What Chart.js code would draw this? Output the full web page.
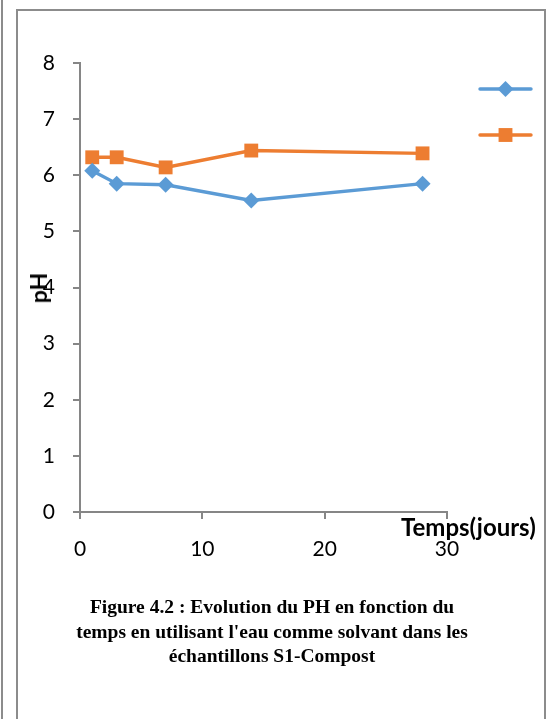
<!DOCTYPE html>
<html>
<head>
<meta charset="utf-8">
<script src="https://cdn.jsdelivr.net/npm/chart.js@4.4.1/dist/chart.umd.min.js"></script>
<style>
  html, body { margin:0; padding:0; background:#fff; width:554px; height:719px; overflow:hidden; }
  #wrap { position:relative; width:554px; height:719px; }
  #c { position:absolute; left:0; top:0; }
  .lineL { position:absolute; left:1px; top:0; width:2px; height:719px; background:#8c8c8c; }
  .frame { position:absolute; left:16px; top:9px; width:526px; height:720px; border:2px solid #8c8c8c; border-bottom:none; }
  .ylab { position:absolute; left:38px; top:288px; transform:translate(-50%,-50%) rotate(-90deg); font-family:Lato, 'Open Sans', sans-serif; font-weight:bold; font-size:23px; color:#000; white-space:nowrap; z-index:2; }
  .xlab { position:absolute; left:401px; top:512px; font-family:Lato, 'Open Sans', sans-serif; font-weight:bold; font-size:24px; color:#000; white-space:nowrap; z-index:2; }
  .caption { position:absolute; left:22px; top:595px; width:500px; text-align:center; font-family:'Liberation Serif','Times New Roman',serif; font-weight:bold; font-size:19.5px; line-height:24.5px; color:#000; }
</style>
</head>
<body>
<div id="wrap">
  <div class="lineL"></div>
  <div class="frame"></div>
  <canvas id="c" width="554" height="600"></canvas>
  <div class="ylab">pH</div>
  <div class="xlab">Temps(jours)</div>
  <div class="caption">Figure 4.2 : Evolution du PH en fonction du<br>temps en utilisant l'eau comme solvant dans les<br>échantillons S1-Compost</div>
</div>
<script>
// Data
const days = [1, 3, 7, 14, 28];
const phSerie1 = [6.08, 5.85, 5.83, 5.55, 5.85];
const phSerie2 = [6.32, 6.32, 6.14, 6.44, 6.39];
const xTickValues = [0, 10, 20, 30];
const yTickValues = [0, 1, 2, 3, 4, 5, 6, 7, 8];

const blue = '#5B9BD5';
const orange = '#ED7D31';
const axisGray = '#868686';

const sideLegend = {
  id: 'sideLegend',
  afterDatasetsDraw(chart) {
    const ctx = chart.ctx;
    const area = chart.chartArea;
    chart.data.datasets.forEach((ds, i) => {
      const x1 = area.right + 33, x2 = area.right + 84;
      const y = area.top + 26 + i * 46;
      ctx.save();
      ctx.strokeStyle = ds.borderColor;
      ctx.lineWidth = ds.borderWidth;
      ctx.lineCap = 'round';
      ctx.beginPath();
      ctx.moveTo(x1, y);
      ctx.lineTo(x2, y);
      ctx.stroke();
      ctx.fillStyle = ds.pointBackgroundColor;
      ctx.strokeStyle = ds.pointBackgroundColor;
      Chart.helpers.drawPoint(ctx, {pointStyle: ds.pointStyle, radius: ds.pointRadius, borderWidth: 0, rotation: 0}, (x1 + x2) / 2, y);
      ctx.restore();
    });
  }
};

const mk = (vals) => days.map((d, i) => ({x: d, y: vals[i]}));

new Chart(document.getElementById('c'), {
  type: 'line',
  data: {
    datasets: [
      { label: 'Série 1', data: mk(phSerie1), borderColor: blue, backgroundColor: blue, borderWidth: 3.4,
        pointStyle: 'rectRot', pointRadius: 8, pointBackgroundColor: blue, pointBorderColor: blue, pointBorderWidth: 0, tension: 0 },
      { label: 'Série 2', data: mk(phSerie2), borderColor: orange, backgroundColor: orange, borderWidth: 3.4,
        pointStyle: 'rect', pointRadius: 9.8, pointBackgroundColor: orange, pointBorderColor: orange, pointBorderWidth: 0, tension: 0 }
    ]
  },
  options: {
    responsive: false,
    animation: false,
    devicePixelRatio: 1,
    layout: { padding: { left: 20, right: 107, top: 63, bottom: 28 } },
    plugins: { legend: { display: false }, tooltip: { enabled: false } },
    scales: {
      x: {
        type: 'linear', min: 0, max: 30,
        afterBuildTicks: s => { s.ticks = xTickValues.map(v => ({value: v})); },
        afterFit: s => { s.height = 60; },
        grid: { drawOnChartArea: false, drawTicks: true, tickLength: 7, color: axisGray, lineWidth: 2 },
        border: { color: axisGray, width: 2 },
        ticks: { font: { family: 'Lato', size: 21 }, color: '#000', padding: 18, maxRotation: 0 }
      },
      y: {
        min: 0, max: 8,
        afterBuildTicks: s => { s.ticks = yTickValues.map(v => ({value: v})); },
        afterFit: s => { s.width = 60; },
        grid: { drawOnChartArea: false, drawTicks: true, tickLength: 7, color: axisGray, lineWidth: 2 },
        border: { color: axisGray, width: 2 },
        ticks: { font: { family: 'Lato', size: 21 }, color: '#000', padding: 18 }
      }
    }
  },
  plugins: [sideLegend]
});
</script>
</body>
</html>
